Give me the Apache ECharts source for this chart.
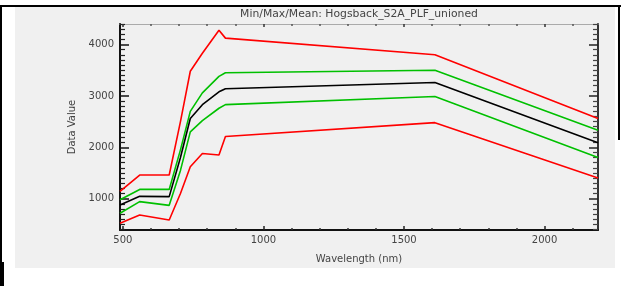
<!DOCTYPE html>
<html>
<head>
<meta charset="utf-8">
<script src="https://cdn.jsdelivr.net/npm/echarts@6/dist/echarts.min.js"></script>
<style>
html,body{margin:0;padding:0;background:#fff;}
#c{width:623px;height:286px;}
</style>
</head>
<body>
<div id="c"></div>
<script>
// Data
const wavelengths = [490, 560, 665, 705, 740, 783, 842, 865, 1610, 2190];
const maxVals   = [1140, 1460, 1460, 2500, 3480, 3830, 4280, 4125, 3800, 2560];
const upperVals = [980, 1180, 1180, 1950, 2700, 3060, 3380, 3450, 3500, 2330];
const meanVals  = [877, 1045, 1040, 1800, 2560, 2830, 3080, 3140, 3260, 2090];
const lowerVals = [716, 942, 870, 1550, 2300, 2520, 2760, 2830, 2990, 1800];
const minVals   = [520, 683, 585, 1100, 1620, 1880, 1850, 2210, 2480, 1400];

const xMajorTicks = [500, 1000, 1500, 2000];
const yMajorTicks = [1000, 2000, 3000, 4000];
const xMinorTicks = [600, 700, 800, 900, 1100, 1200, 1300, 1400, 1600, 1700, 1800, 1900, 2100];
const yMinorTicks = [];
for (let v = 400; v <= 4400; v += 100) { if (v % 1000 !== 0) yMinorTicks.push(v); }

const titleText = 'Min/Max/Mean: Hogsback_S2A_PLF_unioned';
const xName = 'Wavelength (nm)';
const yName = 'Data Value';

const X_MIN = 490, X_MAX = 2190, Y_MIN = 390, Y_MAX = 4400;
const FONT = 'DejaVu Sans';
const labelColor = '#444';

function pairs(ys) { return wavelengths.map((w, i) => [w, ys[i]]); }
const plain = v => String(v);

function xAx(opts) {
  return Object.assign({
    type: 'value', min: X_MIN, max: X_MAX, gridIndex: 0,
    splitLine: {show: false},
    axisLabel: {show: false},
    axisLine: {show: false},
    axisTick: {show: false}
  }, opts);
}
function yAx(opts) {
  return Object.assign({
    type: 'value', min: Y_MIN, max: Y_MAX, gridIndex: 0,
    splitLine: {show: false},
    axisLabel: {show: false},
    axisLine: {show: false},
    axisTick: {show: false}
  }, opts);
}

const chart = echarts.init(document.getElementById('c'));
const lineW = 1.6;
function ser(name, data, color) {
  return {
    name: name, type: 'line', data: pairs(data),
    xAxisIndex: 0, yAxisIndex: 0,
    showSymbol: false, symbol: 'none', animation: false,
    lineStyle: {color: color, width: lineW},
    z: 3
  };
}

chart.setOption({
  animation: false,
  backgroundColor: '#ffffff',
  grid: {left: 120, right: 25, top: 24, bottom: 56, show: true, backgroundColor: '#f0f0f0', borderWidth: 0},
  graphic: [
    {type: 'rect', z: -10, shape: {x: 15, y: 7, width: 600, height: 261}, style: {fill: '#f0f0f0'}},
    {type: 'rect', z: 10, shape: {x: 0, y: 5, width: 621, height: 2}, style: {fill: '#000'}},
    {type: 'rect', z: 10, shape: {x: 0, y: 5, width: 2, height: 281}, style: {fill: '#000'}},
    {type: 'rect', z: 10, shape: {x: 0, y: 262, width: 4, height: 24}, style: {fill: '#000'}},
    {type: 'rect', z: 10, shape: {x: 618, y: 5, width: 2, height: 135}, style: {fill: '#000'}},
    {type: 'text', z: 10, x: 359, y: 14, style: {text: titleText, font: '10.8px "DejaVu Sans"', fill: labelColor, align: 'center', verticalAlign: 'middle'}}
  ],
  xAxis: [
    xAx({
      position: 'bottom',
      name: xName, nameLocation: 'middle', nameGap: 24,
      nameTextStyle: {fontFamily: FONT, fontSize: 10, color: labelColor},
      axisLine: {show: true, onZero: false, lineStyle: {color: '#111', width: 2}},
      axisTick: {show: true, inside: true, length: 4, customValues: xMajorTicks, lineStyle: {color: '#222', width: 1.5}},
      axisLabel: {show: true, customValues: xMajorTicks, formatter: plain, fontFamily: FONT, fontSize: 10, color: labelColor, margin: 5}
    }),
    xAx({
      position: 'bottom',
      axisTick: {show: true, inside: true, length: 2, customValues: xMinorTicks, lineStyle: {color: '#333', width: 1.5}}
    }),
    xAx({
      position: 'top',
      axisLine: {show: true, onZero: false, lineStyle: {color: '#aaa', width: 1}},
      axisTick: {show: true, inside: true, length: 3, customValues: xMajorTicks, lineStyle: {color: '#333', width: 1.5}}
    }),
    xAx({
      position: 'top',
      axisTick: {show: true, inside: true, length: 2, customValues: xMinorTicks, lineStyle: {color: '#555', width: 1.5}}
    })
  ],
  yAxis: [
    yAx({
      position: 'left',
      name: yName, nameLocation: 'middle', nameGap: 41, nameRotate: 90,
      nameTextStyle: {fontFamily: FONT, fontSize: 10, color: labelColor},
      axisLine: {show: true, onZero: false, lineStyle: {color: '#111', width: 2}},
      axisTick: {show: true, inside: true, length: 9, customValues: yMajorTicks, lineStyle: {color: '#111', width: 1.5}},
      axisLabel: {show: true, customValues: yMajorTicks, formatter: plain, fontFamily: FONT, fontSize: 10, color: labelColor, margin: 6}
    }),
    yAx({
      position: 'left',
      axisTick: {show: true, inside: true, length: 5, customValues: yMinorTicks, lineStyle: {color: '#222', width: 1.2}}
    }),
    yAx({
      position: 'right',
      axisLine: {show: true, onZero: false, lineStyle: {color: '#333', width: 2}},
      axisTick: {show: true, inside: true, length: 9, customValues: yMajorTicks, lineStyle: {color: '#222', width: 1.5}}
    }),
    yAx({
      position: 'right',
      axisTick: {show: true, inside: true, length: 5, customValues: yMinorTicks, lineStyle: {color: '#444', width: 1.2}}
    })
  ],
  series: [
    ser('Max', maxVals, '#ff0000'),
    ser('Mean+StdDev', upperVals, '#00c000'),
    ser('Mean', meanVals, '#000000'),
    ser('Mean-StdDev', lowerVals, '#00c000'),
    ser('Min', minVals, '#ff0000')
  ]
});
</script>
</body>
</html>
